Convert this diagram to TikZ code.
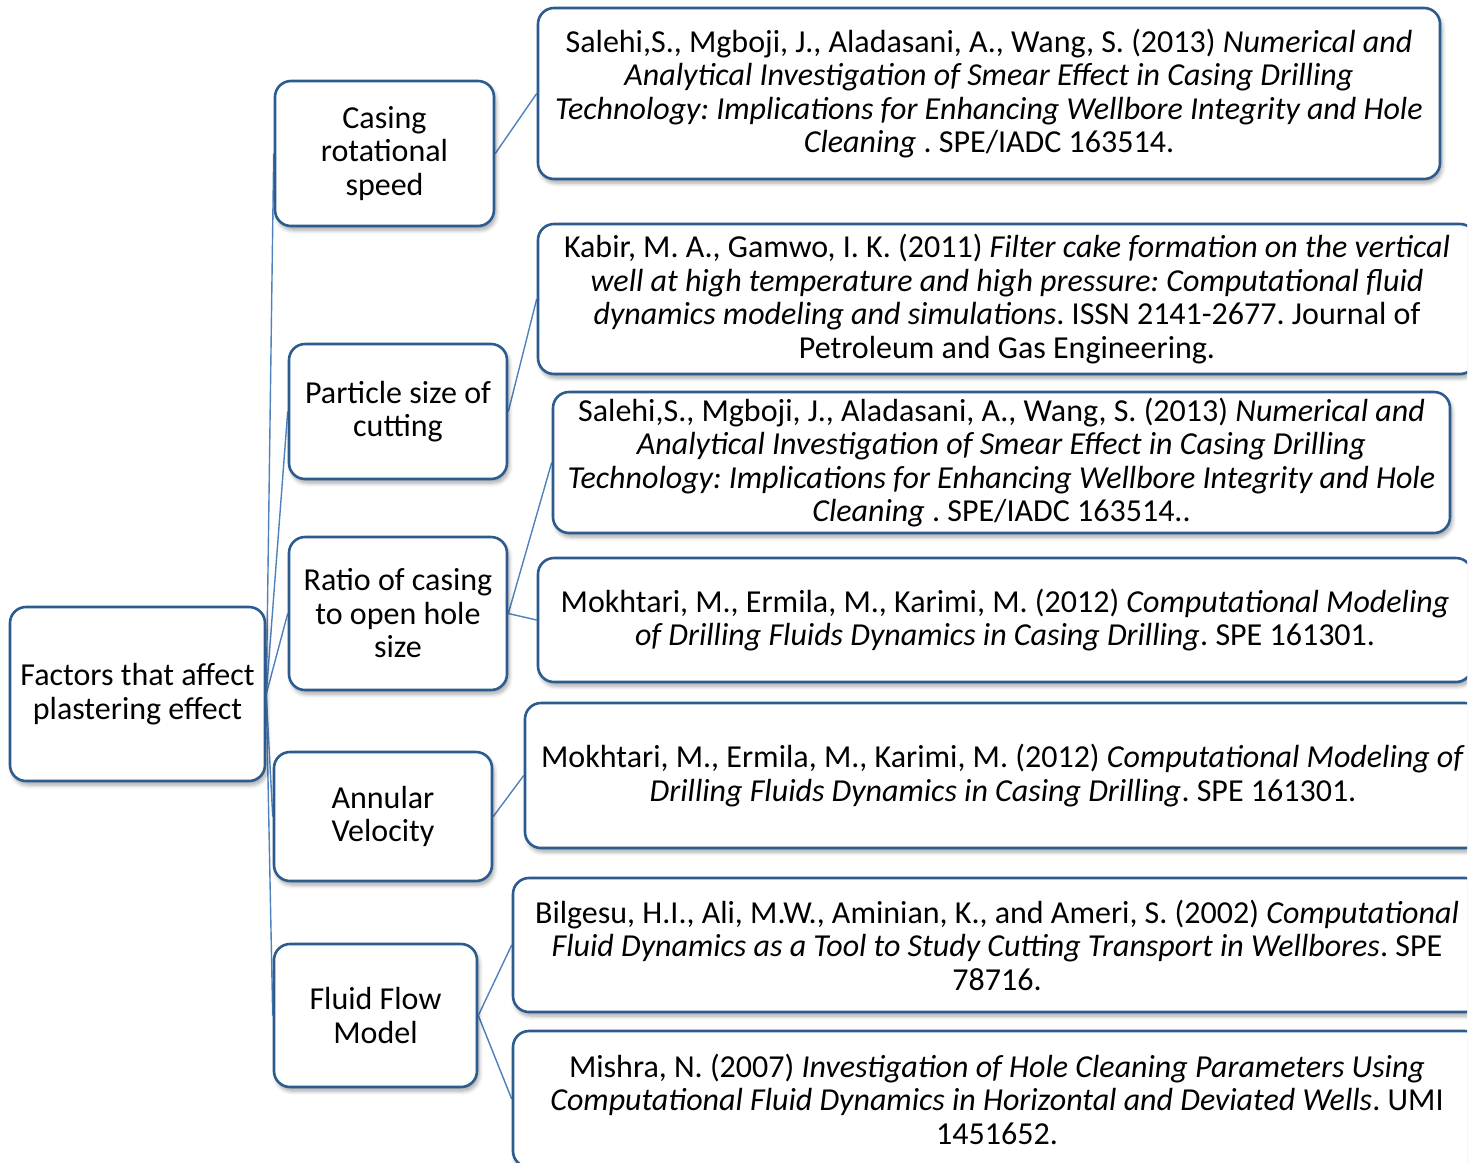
\documentclass[tikz,border=0pt]{standalone}
\usepackage{fontspec}
\setmainfont{Carlito}
\usetikzlibrary{shadows.blur,backgrounds}
\definecolor{bordc}{RGB}{44,92,143}
\definecolor{connc}{RGB}{79,129,189}
\frenchspacing
\tikzset{
  fbox/.style={draw=bordc, line width=2.6pt, rounded corners=16pt, fill=white,
    inner sep=0pt, align=center, font=\fontsize{32}{33.5}\selectfont,
    blur shadow={shadow xshift=2pt, shadow yshift=-4pt, shadow blur steps=6, shadow opacity=35, shadow blur radius=4pt}},
  conn/.style={draw=connc, line width=1.4pt}
}
\begin{document}
\begin{tikzpicture}[x=1pt,y=-1pt]
\useasboundingbox (0,0) rectangle (1482,1162);
\begin{scope}
\clip (0,0) rectangle (1467,1162);
\node[fbox, minimum width=255pt, minimum height=174pt] (root) at (137.5,694) {Factors that affect\\plastering effect};
\node[fbox, minimum width=219pt, minimum height=145pt] (casing) at (384.5,153.5) {Casing\\rotational\\speed};
\node[fbox, minimum width=218pt, minimum height=135pt] (particle) at (398,411.5) {Particle size of\\cutting};
\node[fbox, minimum width=218pt, minimum height=153pt] (ratio) at (398,613.5) {Ratio of casing\\to open hole\\size};
\node[fbox, minimum width=218pt, minimum height=129pt] (annular) at (383,816.5) {Annular\\Velocity};
\node[fbox, minimum width=203pt, minimum height=143pt] (fluid) at (375.5,1015.5) {Fluid Flow\\Model};
\node[fbox, minimum width=902pt, minimum height=171pt] (r1) at (989,93.5) {Salehi,S., Mgboji, J., Aladasani, A., Wang, S. (2013) \textit{Numerical and}\\\textit{Analytical Investigation of Smear Effect in Casing Drilling}\\\textit{Technology: Implications for Enhancing Wellbore Integrity and Hole}\\\textit{Cleaning} . SPE/IADC 163514.};
\node[fbox, minimum width=938pt, minimum height=150pt] (r2) at (1007,299) {Kabir, M. A., Gamwo, I. K. (2011) \textit{Filter cake formation on the vertical}\\\textit{well at high temperature and high pressure: Computational fluid}\\\textit{dynamics modeling and simulations}. ISSN 2141-2677. Journal of\\Petroleum and Gas Engineering.};
\node[fbox, minimum width=897pt, minimum height=141pt] (r3) at (1001.5,462.5) {Salehi,S., Mgboji, J., Aladasani, A., Wang, S. (2013) \textit{Numerical and}\\\textit{Analytical Investigation of Smear Effect in Casing Drilling}\\\textit{Technology: Implications for Enhancing Wellbore Integrity and Hole}\\\textit{Cleaning} . SPE/IADC 163514..};
\node[fbox, minimum width=934pt, minimum height=124pt] (r4) at (1005,620) {Mokhtari, M., Ermila, M., Karimi, M. (2012) \textit{Computational Modeling}\\\textit{of Drilling Fluids Dynamics in Casing Drilling}. SPE 161301.};
\node[fbox, minimum width=956pt, minimum height=145pt] (r5) at (1003,775.5) {Mokhtari, M., Ermila, M., Karimi, M. (2012) \textit{Computational Modeling of}\\\textit{Drilling Fluids Dynamics in Casing Drilling}. SPE 161301.};
\node[fbox, minimum width=968pt, minimum height=134pt] (r6) at (997,945) {Bilgesu, H.I., Ali, M.W., Aminian, K., and Ameri, S. (2002) \textit{Computational}\\\textit{Fluid Dynamics as a Tool to Study Cutting Transport in Wellbores}. SPE\\78716.};
\node[fbox, minimum width=968pt, minimum height=136pt] (r7) at (997,1099) {Mishra, N. (2007) \textit{Investigation of Hole Cleaning Parameters Using}\\\textit{Computational Fluid Dynamics in Horizontal and Deviated Wells}. UMI\\1451652.};
\begin{scope}[on background layer]
\draw[conn] (root.east) -- (casing.west);
\draw[conn] (root.east) -- (particle.west);
\draw[conn] (root.east) -- (ratio.west);
\draw[conn] (root.east) -- (annular.west);
\draw[conn] (root.east) -- (fluid.west);
\draw[conn] (casing.east) -- (r1.west);
\draw[conn] (particle.east) -- (r2.west);
\draw[conn] (ratio.east) -- (r3.west);
\draw[conn] (ratio.east) -- (r4.west);
\draw[conn] (annular.east) -- (r5.west);
\draw[conn] (fluid.east) -- (r6.west);
\draw[conn] (fluid.east) -- (r7.west);
\end{scope}
\end{scope}
\end{tikzpicture}
\end{document}
